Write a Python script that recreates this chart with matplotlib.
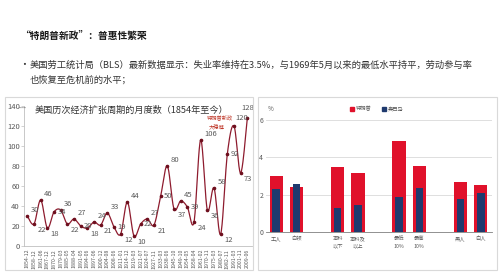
import numpy as np
import matplotlib
matplotlib.use("Agg")
import matplotlib.pyplot as plt
from matplotlib.patches import Rectangle

plt.rcParams['font.family'] = ['Noto Sans CJK SC', 'DejaVu Sans']

# ---------------- data ----------------
trough_dates = ["1854-12", "1858-12", "1861-06", "1867-12", "1870-12", "1879-03",
                "1885-05", "1888-04", "1891-05", "1894-06", "1897-06", "1900-12",
                "1904-08", "1908-06", "1911-01", "1914-12", "1919-03", "1921-07",
                "1924-07", "1927-11", "1933-03", "1938-06", "1945-10", "1949-10",
                "1954-05", "1958-04", "1961-02", "1970-11", "1975-03", "1980-07",
                "1982-11", "1991-03", "2001-11", "2009-06"]
expansion_months = [30, 22, 46, 18, 34, 36, 22, 27, 20, 18, 24, 21, 33, 19, 12, 44,
                    10, 22, 27, 21, 50, 80, 37, 45, 39, 24, 106, 36, 58, 12, 92,
                    120, 73, 128]

bar_groups = ["工人", "白领", "本科\n以下", "本科及\n以上", "最低\n10%", "最高\n10%", "黑人", "白人"]
trump_vals = [3.0, 2.4, 3.5, 3.15, 4.9, 3.55, 2.7, 2.5]
obama_vals = [2.3, 2.55, 1.3, 1.45, 1.9, 2.35, 1.75, 2.1]
bar_pos = [0, 1, 3, 4, 6, 7, 9, 10]

W, H = 500, 275
fig = plt.figure(figsize=(5, 2.75), dpi=100)
fig.patch.set_facecolor('white')

def fx(px):
    return px / W

def fy(py):
    return 1 - py / H

# ---------------- header text ----------------
fig.text(fx(20), fy(36), "“特朗普新政”：普惠性繁荣", fontsize=7, fontweight='bold',
         va='center', ha='left', color='#1a1a1a')
fig.text(fx(19), fy(65), "•", fontsize=7, va='center', ha='left', color='#333333')
fig.text(fx(30), fy(65), "美国劳工统计局（BLS）最新数据显示：失业率维持在3.5%，与1969年5月以来的最低水平持平，劳动参与率",
         fontsize=6.7, va='center', ha='left', color='#333333')
fig.text(fx(30), fy(80), "也恢复至危机前的水平；", fontsize=6.7, va='center', ha='left', color='#333333')

# panel borders
for (x0, x1) in [(5, 253), (258, 497)]:
    fig.patches.append(Rectangle((fx(x0), fy(270)), fx(x1) - fx(x0), fy(97) - fy(270),
                                 transform=fig.transFigure, fill=False,
                                 edgecolor='#d9d9d9', linewidth=0.8))

# ---------------- left chart: line ----------------
axL = fig.add_axes([fx(24), fy(246), fx(252) - fx(24), fy(106) - fy(246)])
x = np.arange(len(expansion_months), dtype=float)
y = np.array(expansion_months, dtype=float)

# Catmull-Rom smoothing of the data line (display only)
pts = np.column_stack([x, y])
ext = np.vstack([pts[0], pts, pts[-1]])
curve = []
for i in range(1, len(ext) - 2):
    p0, p1, p2, p3 = ext[i - 1], ext[i], ext[i + 1], ext[i + 2]
    t = np.linspace(0, 1, 20)[:, None]
    seg = 0.5 * ((2 * p1) + (-p0 + p2) * t + (2 * p0 - 5 * p1 + 4 * p2 - p3) * t ** 2 +
                 (-p0 + 3 * p1 - 3 * p2 + p3) * t ** 3)
    curve.append(seg)
curve = np.vstack(curve)
axL.plot(curve[:, 0], curve[:, 1], color='#8e1b2e', linewidth=0.9)
axL.plot(x, y, 'o', color='#6e0f1e', markersize=1.6)

n = len(y)
for i, (xi, yi) in enumerate(zip(x, y)):
    prev_v = y[i - 1] if i > 0 else yi
    next_v = y[i + 1] if i < n - 1 else yi
    if i == n - 1:
        off, ha, va = (0, 4), 'center', 'bottom'
    elif yi == 120:
        off, ha, va = (1, 3), 'left', 'bottom'
    elif yi >= prev_v and yi >= next_v:
        off, ha, va = (2.5, 1.5), 'left', 'bottom'
    elif yi <= prev_v and yi <= next_v:
        off, ha, va = (2.5, -1.5), 'left', 'top'
    else:
        off, ha, va = (2.5, 0), 'left', 'center'
    axL.annotate(f"{int(yi)}", (xi, yi), xytext=off, textcoords='offset points',
                 fontsize=5.5, color='#595959', ha=ha, va=va)

axL.text(28.9, 127, "特朗普新政", fontsize=3.8, color='#c0392b', ha='center', va='center')
axL.text(28.4, 118, "大稳健", fontsize=3.8, color='#c0392b', ha='center', va='center')

axL.set_xlim(-0.5, 33.7)
axL.set_ylim(0, 140)
axL.set_yticks(np.arange(0, 141, 20))
axL.set_xticks(x)
axL.set_xticklabels(trough_dates, rotation=90, fontsize=3.8, color='#595959')
axL.tick_params(axis='y', labelsize=5.5, labelcolor='#595959', length=2, width=0.5, color='#bfbfbf', pad=1)
axL.tick_params(axis='x', length=0, pad=2)
for s in ['top', 'right']:
    axL.spines[s].set_visible(False)
axL.spines['left'].set_color('#bfbfbf')
axL.spines['bottom'].set_color('#bfbfbf')
axL.spines['left'].set_linewidth(0.6)
axL.spines['bottom'].set_linewidth(0.6)
axL.patch.set_alpha(0)

fig.text(fx(19), fy(109), "****", fontsize=3, color='#333333', ha='left', va='center')
fig.text(fx(35), fy(110), "美国历次经济扩张周期的月度数（1854年至今）", fontsize=6.6,
         color='#333333', ha='left', va='center')

# ---------------- right chart: bars ----------------
axR = fig.add_axes([fx(266), fy(232), fx(492) - fx(266), fy(108.8) - fy(232)])
axR.bar(bar_pos, trump_vals, width=0.65, color='#e0112b', zorder=2)
axR.bar(bar_pos, obama_vals, width=0.37, color='#1f3a6e', zorder=3)
axR.set_xlim(-0.5, 10.55)
axR.set_ylim(0, 6.6)
axR.set_yticks([0, 2, 4, 6])
axR.yaxis.grid(True, color='#d9d9d9', linewidth=0.6, zorder=0)
axR.set_axisbelow(True)
axR.tick_params(axis='y', labelsize=5, labelcolor='#595959', length=0, pad=2)
axR.set_xticks(bar_pos)
axR.set_xticklabels(bar_groups, fontsize=3.8, color='#595959', linespacing=1.6)
axR.tick_params(axis='x', length=0, pad=3)
for s in ['top', 'right', 'left']:
    axR.spines[s].set_visible(False)
axR.spines['bottom'].set_color('#7f7f7f')
axR.spines['bottom'].set_linewidth(0.6)
axR.patch.set_alpha(0)

fig.text(fx(268), fy(109), "%", fontsize=4.5, color='#595959', ha='left', va='center')
fig.patches.append(Rectangle((fx(350), fy(111)), fx(3.5), fy(0) - fy(3.5),
                             transform=fig.transFigure, color='#e0112b'))
fig.text(fx(356), fy(109), "特朗普", fontsize=3.8, color='#595959', ha='left', va='center')
fig.patches.append(Rectangle((fx(382), fy(111)), fx(3.5), fy(0) - fy(3.5),
                             transform=fig.transFigure, color='#1f3a6e'))
fig.text(fx(388), fy(109), "奥巴马", fontsize=3.8, color='#595959', ha='left', va='center')

fig.savefig("out.png", dpi=100, facecolor='white')
